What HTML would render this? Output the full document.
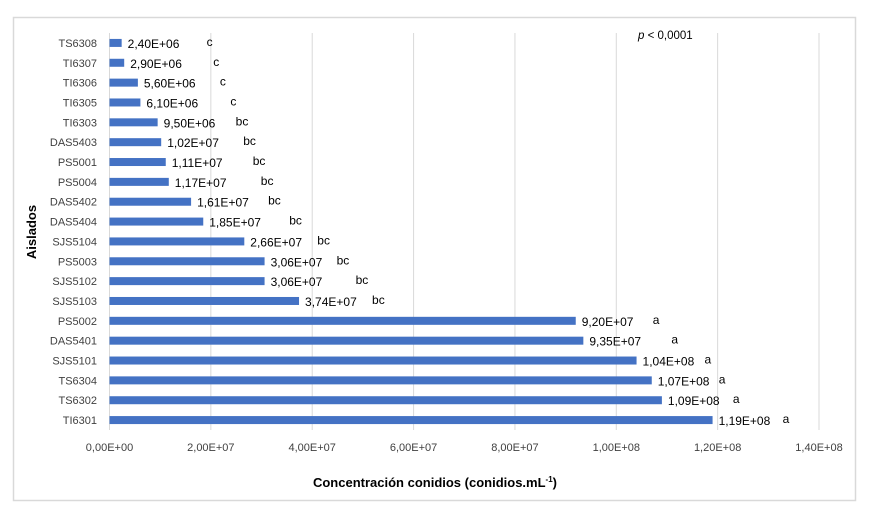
<!DOCTYPE html>
<html><head><meta charset="utf-8"><style>
body{margin:0;background:#fff;width:870px;height:519px;overflow:hidden}
svg{font-family:"Liberation Sans",sans-serif}
</style></head><body>
<svg id="chart" width="870" height="519" xmlns="http://www.w3.org/2000/svg">
<rect x="13.5" y="17.5" width="842" height="483" fill="#fff" stroke="#d9d9d9" stroke-width="1.5"/>
<g id="grid"></g><g id="bars"></g><g id="labels"></g>
<text x="638" y="39" font-size="11.5" fill="#000"><tspan font-style="italic">p</tspan> &lt; 0,0001</text>
<text transform="translate(36,232) rotate(-90)" text-anchor="middle" font-size="13" font-weight="bold">Aislados</text>
<text x="435" y="487" text-anchor="middle" font-size="13" font-weight="bold">Concentración  conidios (conidios.mL<tspan font-size="8" dy="-5">-1</tspan><tspan dy="5">)</tspan></text>
</svg>
<script>
const categories=["TS6308","TI6307","TI6306","TI6305","TI6303","DAS5403","PS5001","PS5004","DAS5402","DAS5404","SJS5104","PS5003","SJS5102","SJS5103","PS5002","DAS5401","SJS5101","TS6304","TS6302","TI6301"];
const values=[2.4e6,2.9e6,5.6e6,6.1e6,9.5e6,1.02e7,1.11e7,1.17e7,1.61e7,1.85e7,2.66e7,3.06e7,3.06e7,3.74e7,9.2e7,9.35e7,1.04e8,1.07e8,1.09e8,1.19e8];
const valueLabels=["2,40E+06","2,90E+06","5,60E+06","6,10E+06","9,50E+06","1,02E+07","1,11E+07","1,17E+07","1,61E+07","1,85E+07","2,66E+07","3,06E+07","3,06E+07","3,74E+07","9,20E+07","9,35E+07","1,04E+08","1,07E+08","1,09E+08","1,19E+08"];
const groups=["c","c","c","c","bc","bc","bc","bc","bc","bc","bc","bc","bc","bc","a","a","a","a","a","a"];
const ticks=[0,2e7,4e7,6e7,8e7,1e8,1.2e8,1.4e8];
const tickLabels=["0,00E+00","2,00E+07","4,00E+07","6,00E+07","8,00E+07","1,00E+08","1,20E+08","1,40E+08"];
const groupOffset=[79,83,76,84,72,76,81,86,71,80,67,66,85,67,71,82,62,61,65,64];
const NS="http://www.w3.org/2000/svg";
const x0=109.5,x1=819,vmax=1.4e8,yTop=33,yBot=430;
const xs=v=>x0+(x1-x0)*v/vmax;
const step=(yBot-yTop)/categories.length;
const yc=i=>yTop+step*(i+0.5);
function mk(t,a,p){const e=document.createElementNS(NS,t);for(const k in a)e.setAttribute(k,a[k]);p.appendChild(e);return e;}
const g=document.getElementById('grid'),b=document.getElementById('bars'),l=document.getElementById('labels');
ticks.forEach((t,i)=>{
 const ln=mk('line',{x1:xs(t),x2:xs(t),y1:yTop,y2:yBot,stroke:'#d9d9d9','stroke-width':1},g);
 
 
 const tx=mk('text',{x:xs(t),y:451,'text-anchor':'middle','font-size':11,fill:'#404040'},l);
 tx.textContent=tickLabels[i];
 
 
});
categories.forEach((c,i)=>{
 const y=yc(i);
 const r=mk('rect',{x:x0,y:y-4,width:xs(values[i])-x0,height:8,fill:'#4472c4'},b);
 
 
 const ct=mk('text',{x:97,y:y+4,'text-anchor':'end','font-size':11,fill:'#404040'},l);
 ct.textContent=c;
 
 
 const vx=xs(values[i])+6;
 const vt=mk('text',{x:vx,y:y+5,'font-size':12,fill:'#000'},l);
 vt.textContent=valueLabels[i];
 
 
 const gt=mk('text',{x:vx+groupOffset[i],y:y+3,'font-size':12,fill:'#000'},l);
 gt.textContent=groups[i];
 
 
});
</script>
</body></html>
